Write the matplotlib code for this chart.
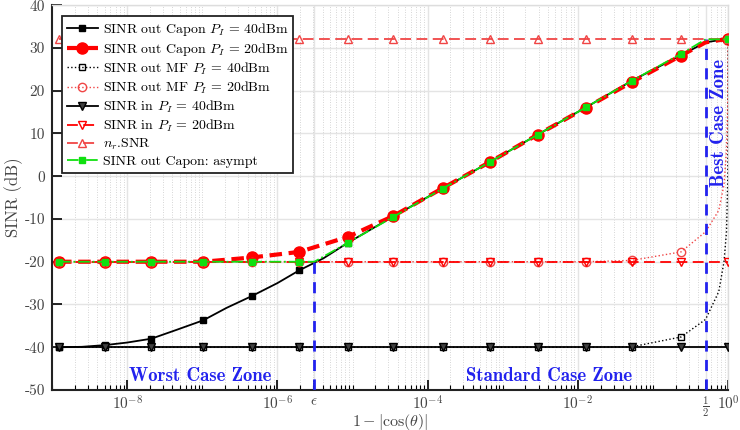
import numpy as np
import matplotlib
matplotlib.use('Agg')
import matplotlib.pyplot as plt
from matplotlib.ticker import FixedLocator, NullFormatter

plt.rcParams['font.family'] = 'serif'
plt.rcParams['font.serif'] = ['cmr10', 'DejaVu Serif']
plt.rcParams['mathtext.fontset'] = 'cm'
plt.rcParams['axes.unicode_minus'] = False

# ---------------- data ----------------
x_points = [1.24e-9, 5.1e-9, 2.1e-8, 1.03e-7, 4.6e-7, 1.96e-6, 8.6e-6, 3.5e-5,
            1.58e-4, 6.7e-4, 2.9e-3, 1.28e-2, 5.2e-2, 0.236, 1.0]
x_tail = [0.5, 0.75, 0.88, 0.95, 0.99]
eps = 3.1e-6
half = 0.5

capon40 = [-40, -39.5, -38, -33.7, -28, -22, -15.6, -9.4, -2.9, 3.3, 9.7, 16.1, 22.3, 28.3, 32]
capon40_mid_x = [2.5e-9, 1.0e-8, 4.6e-8, 2.1e-7, 1.0e-6, 4.1e-6]
capon40_mid_y = [-39.9, -38.9, -35.9, -30.8, -25.0, -19.2]
capon40_tail = [31.3, 31.8, 31.95, 32.0, 32.0]
capon20 = [-20, -20, -20, -20, -19.0, -17.7, -14.2, -9.3, -2.8, 3.3, 9.7, 16.0, 22.0, 28.2, 32]
capon20_tail = [31.3, 31.8, 31.95, 32.0, 32.0]
mf40 = [-40, -40, -40, -40, -40, -40, -40, -40, -40, -40, -40, -40, -39.9, -37.6, 32]
mf40_tail = [-33.5, -27, -20, -13, 0]
mf20 = [-20, -20, -20, -20, -20, -20, -20, -20, -20, -20, -20, -20, -19.7, -17.7, 32]
mf20_tail = [-13, -8, -2, 6, 18]
sinr_in40 = [-40, -40, -40, -40, -40, -40, -40, -40, -40, -40, -40, -40, -40, -40, -40]
sinr_in20 = [-20, -20, -20, -20, -20, -20, -20, -20, -20, -20, -20, -20, -20, -20, -20]
nr_snr = [32, 32, 32, 32, 32, 32, 32, 32, 32, 32, 32, 32, 32, 32, 32]
asympt = [-20, -20, -20, -20, -20, -20, -15.6, -9.5, -2.9, 3.3, 9.7, 16.1, 22.3, 28.6, 32]
asympt_knee_x = [eps, half]
asympt_knee_y = [-20, 32]

x_ticks = [1e-8, 1e-6, eps, 1e-4, 1e-2, half, 1.0]
x_ticklabels = [r'$10^{-8}$', r'$10^{-6}$', r'$\epsilon$', r'$10^{-4}$', r'$10^{-2}$',
                r'$\frac{1}{2}$', r'$10^{0}$']
y_ticks = [-50, -40, -30, -20, -10, 0, 10, 20, 30, 40]


def merge(xm, ym, xe, ye):
    """Merge marker points with extra line points; return x, y, marker indices."""
    pts = [(x, y, True) for x, y in zip(xm, ym)] + [(x, y, False) for x, y in zip(xe, ye)]
    pts.sort(key=lambda p: p[0])
    xs = [p[0] for p in pts]
    ys = [p[1] for p in pts]
    idx = [i for i, p in enumerate(pts) if p[2]]
    return xs, ys, idx


fig = plt.figure(figsize=(7.4, 4.3), dpi=100)
ax = fig.add_axes([0.0703, 0.093, 0.9137, 0.895])

red = '#ff0000'
lred = '#f04545'
green = '#10e010'

x, y, m = merge(x_points, capon40, capon40_mid_x + x_tail, capon40_mid_y + capon40_tail)
ax.plot(x, y, '-', color='black', lw=1.3, marker='s', ms=4, mfc='black', mec='black',
        markevery=m, label=r'SINR out Capon $P_I$ = 40dBm', zorder=3)
x, y, m = merge(x_points, capon20, x_tail, capon20_tail)
ax.plot(x, y, '--', color=red, lw=3, dashes=(3, 1.6), marker='o', ms=8, mfc=red, mec=red,
        markevery=m, label=r'SINR out Capon $P_I$ = 20dBm', zorder=3)
x, y, m = merge(x_points, mf40, x_tail, mf40_tail)
ax.plot(x, y, ':', color='black', lw=1.0, marker='s', ms=4, mfc='none', mec='black',
        markevery=m, label=r'SINR out MF $P_I$ = 40dBm', zorder=3)
x, y, m = merge(x_points, mf20, x_tail, mf20_tail)
ax.plot(x, y, ':', color=lred, lw=1.0, marker='o', ms=6, mfc='none', mec=lred,
        markevery=m, label=r'SINR out MF $P_I$ = 20dBm', zorder=3)
ax.plot(x_points, sinr_in40, '-', color='black', lw=1.3, marker='v', ms=6, mfc='0.25', mec='black',
        label=r'SINR in $P_I$ = 40dBm', zorder=3)
ax.plot(x_points, sinr_in20, '--', color=red, lw=1.3, dashes=(6, 3), marker='v', ms=6, mfc='none', mec=red,
        label=r'SINR in $P_I$ = 20dBm', zorder=3)
ax.plot(x_points, nr_snr, '--', color=lred, lw=1.3, dashes=(6, 3), marker='^', ms=6, mfc='none', mec=lred,
        label=r'$n_r$.SNR', zorder=3)
x, y, m = merge(x_points, asympt, asympt_knee_x, asympt_knee_y)
ax.plot(x, y, '-.', color=green, lw=1.3, marker='s', ms=4, mfc=green, mec=green,
        markevery=m, label='SINR out Capon: asympt', zorder=4)

# zone separators
blue = '#2222ee'
ax.plot([eps, eps], [-50, -20], '--', color=blue, lw=2, dashes=(4, 3), zorder=5)
ax.plot([half, half], [-50, 32], '--', color=blue, lw=2, dashes=(4, 3), zorder=5)

ax.text(9.4e-8, -46.8, 'Worst Case Zone', color=blue, fontsize=13.5, family='cmb10',
        ha='center', va='center')
ax.text(4.1e-3, -46.8, 'Standard Case Zone', color=blue, fontsize=13.5, family='cmb10',
        ha='center', va='center')
ax.text(0.75, 12.5, 'Best Case Zone', color=blue, fontsize=13.5, family='cmb10',
        ha='center', va='center', rotation=90)

ax.set_xscale('log')
ax.set_xlim(1e-9, 1.0)
ax.set_ylim(-50, 40)

ax.xaxis.set_major_locator(FixedLocator(x_ticks))
ax.set_xticklabels(x_ticklabels)
minor = []
for d in range(-9, 0):
    for k in range(1, 10):
        v = k * 10.0 ** d
        if v not in x_ticks:
            minor.append(v)
ax.xaxis.set_minor_locator(FixedLocator(minor))
ax.xaxis.set_minor_formatter(NullFormatter())
ax.set_yticks(y_ticks)
ax.set_yticklabels([str(v) for v in y_ticks])
for lab in ax.get_xticklabels():
    if lab.get_text() == r'$\epsilon$':
        lab.set_color(blue)

ax.tick_params(axis='both', which='major', direction='in', length=7, width=1.2,
               labelsize=11, labelcolor='#444444', pad=5)
ax.tick_params(axis='x', which='major', pad=3)
ax.tick_params(axis='x', which='minor', direction='in', length=3.5, width=0.8)
ax.tick_params(top=False, right=False, which='both')

ax.grid(True, which='major', color='#e4e4e4', lw=1.0, ls='-')
ax.grid(True, which='minor', axis='x', color='#c8c8c8', lw=0.6, ls=(0, (1, 2)))
ax.set_axisbelow(True)

for s in ['left', 'bottom']:
    ax.spines[s].set_color('#222222')
    ax.spines[s].set_linewidth(1.5)
for s in ['top', 'right']:
    ax.spines[s].set_color('#dddddd')
    ax.spines[s].set_linewidth(1.0)

ax.set_ylabel('SINR (dB)', fontsize=12, color='#444444')
ax.yaxis.set_label_coords(-0.043, 0.5)
ax.set_xlabel(r'$1-|\cos(\theta)|$', fontsize=11.5, color='#444444')
ax.xaxis.set_label_coords(0.5, -0.056)

leg = ax.legend(loc='upper left', bbox_to_anchor=(0.015, 0.972), borderaxespad=0,
                fontsize=10, fancybox=False, framealpha=1, edgecolor='#222222',
                handlelength=2.2, labelspacing=0.2, borderpad=0.35, handletextpad=0.4)
leg.get_frame().set_linewidth(1.3)
leg.set_zorder(10)

fig.savefig('out.png', dpi=100)
